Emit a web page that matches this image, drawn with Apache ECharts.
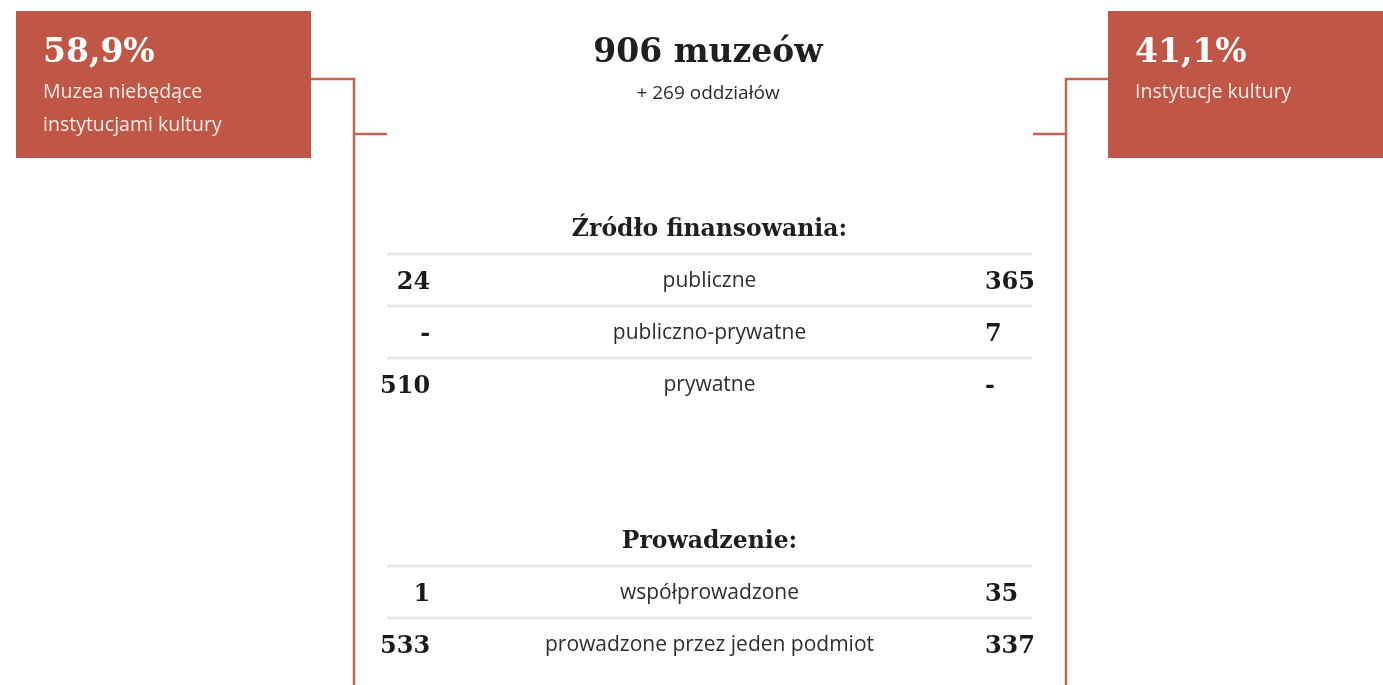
<!DOCTYPE html>
<html>
<head>
<meta charset="utf-8">
<title>906 muzeów</title>
<script src="https://cdn.jsdelivr.net/npm/echarts@6/dist/echarts.min.js"></script>
<style>
  html, body { margin: 0; padding: 0; background: #ffffff; }
  #chart { width: 1383px; height: 685px; }
</style>
</head>
<body>
<div id="chart"></div>
<script>
// data
const totalMuseums = 906;
const totalBranches = 269;
const groupNames = ['Muzea niebędące\ninstytucjami kultury', 'Instytucje kultury'];
const groupShares = [58.9, 41.1];

const fundingTitle = 'Źródło finansowania:';
const fundingCategories = ['publiczne', 'publiczno-prywatne', 'prywatne'];
const fundingNonCultural = [24, null, 510];
const fundingCultural = [365, 7, null];

const managementTitle = 'Prowadzenie:';
const managementCategories = ['współprowadzone', 'prowadzone przez jeden podmiot'];
const managementNonCultural = [1, 533];
const managementCultural = [35, 337];

const accent = '#bf5646';
const lineColor = '#c86353';
const serif = '"DejaVu Serif", "Liberation Serif", serif';
const sans = '"Open Sans", "Noto Sans", sans-serif';

// rows of the table (two blank rows between sections)
const rows = [];
function addSection(title, cats, left, right) {
  rows.push({ kind: 'head', text: title });
  cats.forEach((c, i) => rows.push({ kind: 'row', text: c, left: left[i], right: right[i] }));
}
addSection(fundingTitle, fundingCategories, fundingNonCultural, fundingCultural);
rows.push({ kind: 'gap' }, { kind: 'gap' });
addSection(managementTitle, managementCategories, managementNonCultural, managementCultural);

const fmtNum = v => (v == null ? '-' : String(v));
const fmtShare = v => v.toFixed(1).replace('.', ',') + '%';

// column anchors on a 0..100 x scale
const colLeft = 6.7, colMid = 50, colRight = 92.7;

const textData = [];
rows.forEach((r, i) => {
  if (r.kind === 'head') textData.push([colMid, i, r.text, 'head']);
  if (r.kind === 'row') {
    textData.push([colLeft, i, fmtNum(r.left), 'numL']);
    textData.push([colMid, i, r.text, 'label']);
    textData.push([colRight, i, fmtNum(r.right), 'numR']);
  }
});
const sepData = rows.map((r, i) => [0, i]).filter(d => rows[d[1]].kind === 'row');

const textStyles = {
  head: { align: 'center', font: 'bold 23.5px ' + serif, fill: '#1f1f1f', dy: 1 },
  label: { align: 'center', font: '400 21px ' + sans, fill: '#2e2e2e', dy: 0 },
  numL: { align: 'right', font: 'bold 24px ' + serif, fill: '#1a1a1a', dy: 2 },
  numR: { align: 'left', font: 'bold 24px ' + serif, fill: '#1a1a1a', dy: 2 }
};

const chart = echarts.init(document.getElementById('chart'), null, { renderer: 'canvas' });

function box(x, w, share, name) {
  const lines = name.split('\n');
  const children = [
    { type: 'rect', shape: { x: x, y: 11, width: w, height: 147 }, style: { fill: accent } },
    {
      type: 'text', x: x + 27, y: 53,
      style: { text: fmtShare(share), font: 'bold 33px ' + serif, fill: '#ffffff', verticalAlign: 'middle' }
    }
  ];
  lines.forEach((l, i) => {
    children.push({
      type: 'text', x: x + 27, y: 92 + i * 33,
      style: { text: l, font: '400 19.5px ' + sans, fill: '#f8ebe7', verticalAlign: 'middle' }
    });
  });
  return { type: 'group', children: children };
}

function connector(points) {
  return { type: 'polyline', shape: { points: points }, style: { stroke: lineColor, lineWidth: 2.5, fill: null } };
}

chart.setOption({
  animation: false,
  title: {
    text: totalMuseums + ' muzeów',
    subtext: '+ ' + totalBranches + ' oddziałów',
    left: 703,
    textAlign: 'center',
    top: 32,
    itemGap: 14,
    textStyle: { fontFamily: serif, fontWeight: 'bold', fontSize: 33, color: '#1f1f1f' },
    subtextStyle: { fontFamily: sans, fontWeight: 400, fontSize: 19, color: '#2b2b2b' }
  },
  grid: { left: 387, right: 351, top: 203, height: 468 },
  xAxis: { type: 'value', min: 0, max: 100, show: false },
  yAxis: {
    type: 'category',
    inverse: true,
    data: rows.map((r, i) => 'r' + i),
    show: false
  },
  series: [
    {
      type: 'custom',
      data: sepData,
      silent: true,
      renderItem: function (params, api) {
        const band = api.size([0, 1])[1];
        const y = api.coord([0, api.value(1)])[1] - band / 2 - 1;
        const cs = params.coordSys;
        return {
          type: 'line',
          shape: { x1: cs.x, y1: y, x2: cs.x + cs.width, y2: y },
          style: { stroke: '#e8e8e8', lineWidth: 3 }
        };
      }
    },
    {
      type: 'custom',
      data: textData,
      silent: true,
      renderItem: function (params, api) {
        const d = textData[params.dataIndex];
        const p = api.coord([d[0], d[1]]);
        const s = textStyles[d[3]];
        return {
          type: 'text',
          x: p[0],
          y: p[1] + s.dy,
          style: { text: d[2], font: s.font, fill: s.fill, align: s.align, verticalAlign: 'middle' }
        };
      }
    }
  ],
  graphic: [
    box(16, 295, groupShares[0], groupNames[0]),
    box(1108, 275, groupShares[1], groupNames[1]),
    connector([[311, 79], [354, 79], [354, 685]]),
    connector([[354, 134], [387, 134]]),
    connector([[1108, 79], [1066, 79], [1066, 685]]),
    connector([[1066, 134], [1033, 134]])
  ]
});
</script>
</body>
</html>
